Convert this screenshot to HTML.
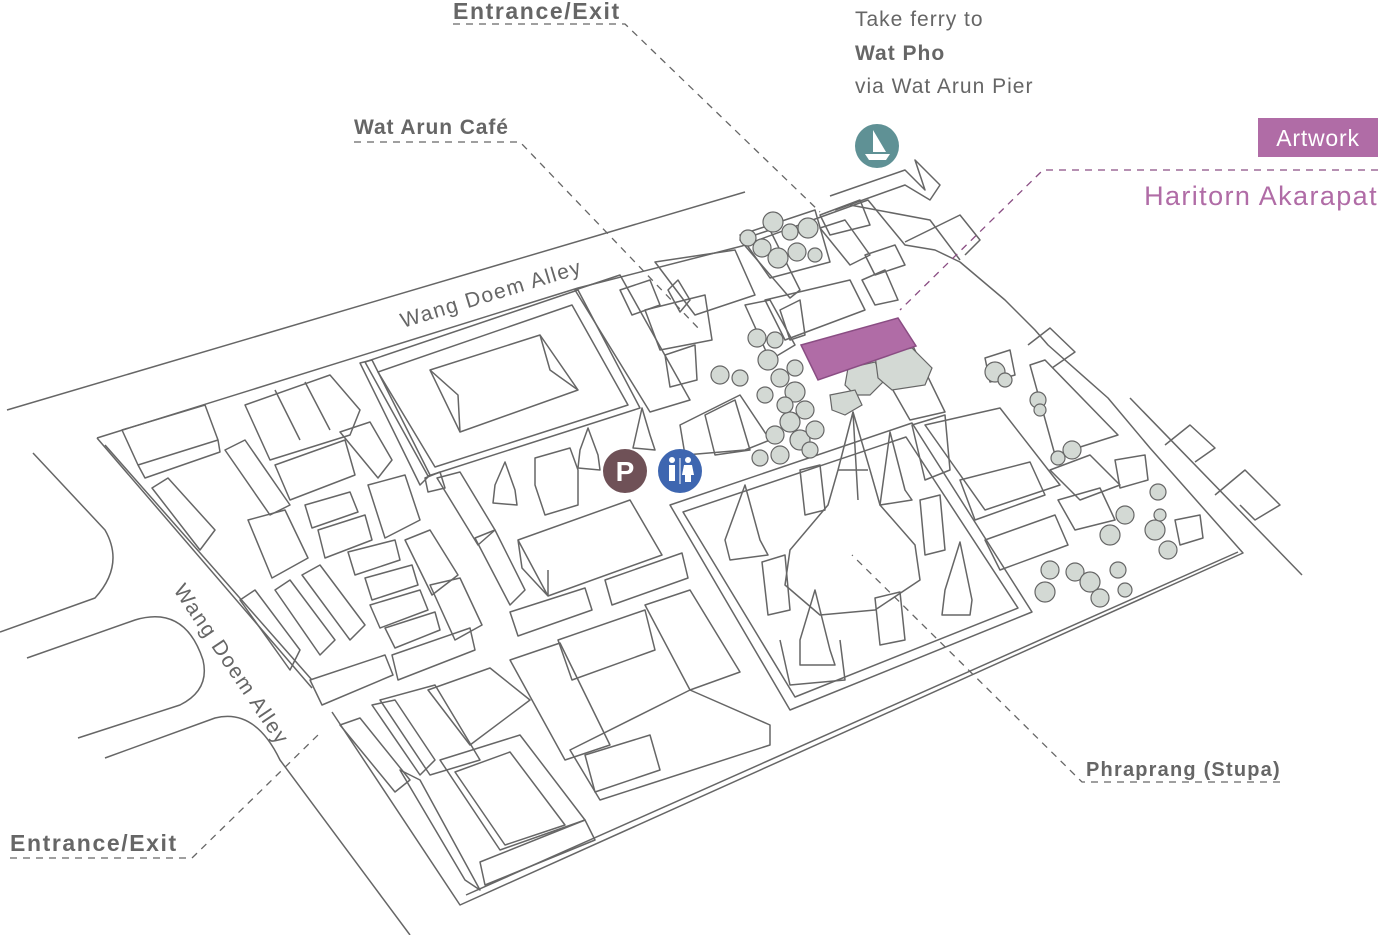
<!DOCTYPE html>
<html><head><meta charset="utf-8"><style>
html,body{margin:0;padding:0;background:#fff;}
svg{display:block;}
text{font-family:"Liberation Sans",sans-serif;}
</style></head><body>
<svg width="1385" height="935" viewBox="0 0 1385 935" xmlns="http://www.w3.org/2000/svg">
<g fill="none" stroke="#666" stroke-width="1.5" stroke-linejoin="round">
<!-- roads -->
<line x1="7" y1="410" x2="745" y2="192"/>
<path d="M33,453 L105,530 Q125,565 95,598 L0,632"/>
<path d="M27,658 L135,620 Q185,605 203,660 Q210,690 180,705 L78,738"/>
<path d="M105,758 L215,718 Q255,708 280,760 L410,935"/>
<line x1="1130" y1="398" x2="1302" y2="575"/>
<!-- site outline -->
<path d="M97,438 L578,288 L742,246 L818,218 L868,200 L905,245 L935,250 L960,262 L1005,300 L1035,330 L1048,345 L1108,398 L1150,448 L1243,553 L460,905 L332,712"/>
<path d="M312,688 L97,438"/>
<path d="M466,895 L1238,552"/>
<path d="M105,445 L312,680"/>
<!-- pier structures -->
<path d="M830,196 L905,170 L925,190 L915,160 L940,185 L930,200 L905,185 L835,210"/>
<path d="M905,242 L960,215 L980,240 L965,255"/>
<path d="M1028,345 L1050,328 L1075,352 L1052,368"/>
<path d="M1165,445 L1190,425 L1215,448 L1195,462"/>
<path d="M1215,495 L1245,470 L1280,505 L1255,520 L1240,505"/>
<!-- temple compound -->
<path d="M670,505 L912,423 L1032,612 L790,710 Z"/>
<path d="M683,512 L906,437 L1018,608 L795,697 Z"/>
<!-- big hall -->
<path d="M365,362 L578,290 L640,408 L428,476 Z"/>
<path d="M378,372 L572,305 L628,405 L435,467 Z"/>
<path d="M430,370 L540,335 L578,390 L460,432 Z"/>
<path d="M430,370 L458,395 L460,432 M540,335 L550,370 L578,390"/>
<!-- middle buildings -->
<path d="M518,540 L630,500 L662,555 L548,596 Z M548,596 L548,570 M518,540 L522,568 L548,596"/>
<path d="M510,612 L585,588 L592,610 L518,636 Z"/>
<path d="M605,580 L682,553 L688,578 L612,605 Z"/>
<path d="M535,458 L570,448 L578,470 L578,505 L545,515 L535,485 Z"/>
<path d="M558,640 L645,610 L655,650 L572,680 Z"/>
<path d="M645,605 L690,590 L740,672 L690,690 Z"/>
<path d="M510,660 L560,643 L610,745 L565,760 Z"/>
<path d="M570,750 L690,690 L770,725 L770,745 L600,800 Z"/>
<path d="M585,755 L650,735 L660,770 L595,792 Z"/>
<path d="M380,700 L435,685 L480,760 L430,775 Z"/>
<path d="M428,690 L490,668 L530,700 L470,745 Z"/>
<path d="M440,760 L520,735 L585,820 L500,850 Z"/>
<path d="M455,772 L510,752 L565,825 L505,845 Z"/>
<path d="M340,725 L360,718 L410,780 L395,792 Z"/>
<path d="M372,705 L395,700 L435,760 L420,775 Z"/>
<path d="M400,770 L465,880 L480,890 L420,780 Z"/>
<path d="M480,862 L585,820 L595,840 L485,885 Z"/>
<!-- left area buildings -->
<path d="M122,430 L205,405 L218,440 L138,465 Z M138,465 L145,478 L220,452 L218,440"/>
<path d="M152,488 L168,478 L215,530 L200,550 Z"/>
<path d="M225,450 L245,440 L290,505 L270,515 Z"/>
<path d="M245,405 L330,375 L360,410 L350,435 L270,460 Z M275,390 L300,440 M305,382 L330,430"/>
<path d="M275,465 L345,440 L355,475 L290,500 Z"/>
<path d="M340,432 L370,422 L392,460 L378,478 Z"/>
<path d="M248,520 L285,510 L308,558 L272,578 Z"/>
<path d="M305,505 L350,492 L358,512 L312,528 Z"/>
<path d="M318,530 L365,515 L372,540 L325,558 Z"/>
<path d="M368,485 L405,475 L420,520 L385,538 Z"/>
<path d="M240,600 L255,590 L300,650 L290,670 Z"/>
<path d="M275,590 L290,580 L335,640 L320,655 Z"/>
<path d="M302,575 L320,565 L365,625 L350,640 Z"/>
<path d="M348,552 L395,540 L400,560 L355,575 Z"/>
<path d="M365,578 L412,565 L418,585 L372,600 Z"/>
<path d="M370,605 L420,590 L428,610 L380,628 Z"/>
<path d="M385,628 L435,612 L440,630 L395,648 Z"/>
<path d="M392,655 L470,628 L475,650 L398,680 Z"/>
<path d="M310,680 L385,655 L393,675 L322,705 Z"/>
<path d="M405,540 L430,530 L458,575 L432,595 Z"/>
<path d="M430,585 L460,578 L482,625 L455,640 Z"/>
<path d="M360,363 L372,360 L430,475 L420,485 Z"/>
<path d="M437,478 L460,472 L495,530 L478,545 Z"/>
<path d="M475,538 L495,530 L525,590 L510,605 Z"/>
<path d="M425,478 L440,472 L445,488 L428,492 Z"/>
<!-- top cluster -->
<path d="M575,290 L620,275 L690,400 L650,412 Z"/>
<path d="M655,262 L735,250 L755,295 L695,315 Z"/>
<path d="M740,240 L770,230 L800,290 L790,298 Z"/>
<path d="M740,235 L815,210 L830,262 L770,278 Z"/>
<path d="M765,300 L850,280 L865,310 L785,340 Z"/>
<path d="M780,310 L800,300 L805,335 L790,340 Z"/>
<path d="M820,215 L860,200 L870,225 L830,235 Z"/>
<path d="M820,228 L845,220 L870,255 L850,265 Z"/>
<path d="M865,255 L895,245 L905,265 L875,275 Z"/>
<path d="M862,280 L885,270 L898,300 L875,305 Z"/>
<path d="M850,205 L930,220 L960,260"/>
<path d="M620,290 L650,280 L660,305 L632,315 Z"/>
<path d="M645,310 L705,295 L712,340 L660,350 Z"/>
<path d="M668,290 L678,280 L690,300 L680,312 Z"/>
<path d="M665,355 L695,345 L697,380 L670,387 Z"/>
<path d="M680,425 L740,395 L770,440 L745,450 L685,455 Z"/>
<path d="M705,415 L735,400 L750,450 L715,455 Z"/>
<path d="M745,305 L770,300 L795,345 L770,360 Z"/>
<path d="M925,425 L1000,408 L1060,485 L985,510 Z"/>
<path d="M960,480 L1030,462 L1045,495 L975,520 Z"/>
<path d="M985,540 L1055,515 L1068,545 L1000,570 Z"/>
<path d="M1058,500 L1100,488 L1115,520 L1075,530 Z"/>
<path d="M1050,470 L1090,455 L1120,485 L1080,500 Z"/>
<path d="M1115,460 L1145,455 L1148,480 L1120,488 Z"/>
<path d="M1175,520 L1200,515 L1203,538 L1180,545 Z"/>
<path d="M1030,365 L1045,360 L1118,435 L1055,455 Z"/>
<path d="M985,358 L1010,350 L1015,375 L990,382 Z"/>
<path d="M912,425 L945,415 L950,470 L925,480 Z"/>
<path d="M870,350 L910,340 L945,412 L910,420 Z"/>
<!-- stupas -->
<path d="M853,412 L870,470 L880,505 L915,545 L920,580 L875,610 L820,615 L785,585 L790,550 L828,505 L838,470 Z"/>
<path d="M853,412 L858,500 M838,470 L868,470"/>
<path d="M745,485 L760,540 L768,555 L730,560 L725,540 Z"/>
<path d="M890,432 L905,490 L912,500 L880,505 Z"/>
<path d="M960,542 L972,600 L970,615 L942,615 L945,590 Z"/>
<path d="M815,590 L830,650 L835,665 L800,665 L800,640 Z"/>
<path d="M762,562 L785,555 L790,610 L768,615 Z"/>
<path d="M875,598 L900,592 L905,640 L880,645 Z"/>
<path d="M800,470 L820,465 L825,510 L805,515 Z"/>
<path d="M920,500 L940,495 L945,550 L925,555 Z"/>
<path d="M505,462 L515,490 L517,505 L493,503 L495,485 Z"/>
<path d="M588,428 L598,455 L600,470 L578,468 L580,450 Z"/>
<path d="M642,408 L650,435 L655,450 L633,448 Z"/>
<path d="M780,640 L790,685 L845,680 L840,640"/>
</g>
<!-- trees -->
<g fill="#d3d9d4" stroke="#666" stroke-width="1.2">
<path d="M848,368 L875,362 L885,380 L870,395 L855,395 L845,385 Z"/>
<path d="M875,355 L912,348 L932,368 L925,385 L892,390 L878,378 Z"/>
<path d="M830,395 L855,390 L862,405 L845,415 L832,410 Z"/>
<circle cx="748" cy="238" r="8"/><circle cx="773" cy="222" r="10"/><circle cx="762" cy="248" r="9"/><circle cx="778" cy="258" r="10"/><circle cx="797" cy="252" r="9"/><circle cx="808" cy="228" r="10"/><circle cx="815" cy="255" r="7"/><circle cx="790" cy="232" r="8"/>
<circle cx="757" cy="338" r="9"/><circle cx="775" cy="340" r="8"/><circle cx="768" cy="360" r="10"/><circle cx="780" cy="378" r="9"/><circle cx="795" cy="392" r="10"/><circle cx="805" cy="410" r="9"/><circle cx="790" cy="422" r="10"/><circle cx="775" cy="435" r="9"/><circle cx="800" cy="440" r="10"/><circle cx="815" cy="430" r="9"/><circle cx="780" cy="455" r="9"/><circle cx="760" cy="458" r="8"/><circle cx="720" cy="375" r="9"/><circle cx="740" cy="378" r="8"/><circle cx="785" cy="405" r="8"/><circle cx="810" cy="450" r="8"/><circle cx="765" cy="395" r="8"/><circle cx="795" cy="368" r="8"/>
<circle cx="995" cy="372" r="10"/><circle cx="1005" cy="380" r="7"/><circle cx="1038" cy="400" r="8"/><circle cx="1040" cy="410" r="6"/><circle cx="1072" cy="450" r="9"/><circle cx="1058" cy="458" r="7"/><circle cx="1125" cy="515" r="9"/><circle cx="1158" cy="492" r="8"/><circle cx="1110" cy="535" r="10"/><circle cx="1155" cy="530" r="10"/><circle cx="1168" cy="550" r="9"/><circle cx="1050" cy="570" r="9"/><circle cx="1075" cy="572" r="9"/><circle cx="1090" cy="582" r="10"/><circle cx="1045" cy="592" r="10"/><circle cx="1100" cy="598" r="9"/><circle cx="1118" cy="570" r="8"/><circle cx="1125" cy="590" r="7"/><circle cx="1160" cy="515" r="6"/>
</g>
<!-- purple artwork plot -->
<polygon points="801,345 898,318 916,346 818,380" fill="#b06ca6" stroke="#8a4d83" stroke-width="1.5"/>
<!-- leaders -->
<g fill="none" stroke="#666" stroke-width="1.3" stroke-dasharray="7,6">
<path d="M453,24 L625,24 L820,212"/>
<path d="M354,142 L520,142 L700,330"/>
<path d="M10,858 L192,858 L318,735"/>
<path d="M1280,782 L1082,782 L852,555"/>
</g>
<path d="M1378,170 L1043,170 L900,310" fill="none" stroke="#8a4d83" stroke-width="1.3" stroke-dasharray="7,6"/>
<!-- icons -->
<circle cx="877" cy="146" r="22" fill="#5f9195"/>
<path d="M873,130 L873,152 L886,152 Z" fill="#fff"/>
<path d="M865,154 L890,154 L886,160 L869,160 Z" fill="#fff"/>
<circle cx="625" cy="471" r="22" fill="#6f5157"/>
<text x="625" y="481" text-anchor="middle" font-size="28" font-weight="bold" fill="#fff">P</text>
<circle cx="680" cy="471" r="22" fill="#3e66b0"/>
<g fill="#fff"><circle cx="672" cy="460" r="3"/><rect x="669" y="465" width="6" height="16"/><circle cx="688" cy="460" r="3"/><path d="M684,465 L692,465 L694,475 L682,475 Z"/><rect x="685" y="475" width="6" height="7"/><rect x="679.5" y="458" width="1" height="26"/></g>
<!-- labels -->
<g fill="#666">
<text x="453" y="19" font-size="23" font-weight="bold" letter-spacing="1.6">Entrance/Exit</text>
<text x="354" y="134" font-size="21" font-weight="bold" letter-spacing="0.9">Wat Arun Café</text>
<text x="855" y="26" font-size="21" letter-spacing="1">Take ferry to</text>
<text x="855" y="60" font-size="21" font-weight="bold" letter-spacing="1">Wat Pho</text>
<text x="855" y="93" font-size="21" letter-spacing="1">via Wat Arun Pier</text>
<text x="10" y="851" font-size="23" font-weight="bold" letter-spacing="1.6">Entrance/Exit</text>
<text x="1086" y="776" font-size="20" font-weight="bold" letter-spacing="1.2">Phraprang (Stupa)</text>
<text transform="translate(403,328) rotate(-17)" font-size="21" letter-spacing="1.5">Wang Doem Alley</text>
<text transform="translate(173,590) rotate(56)" font-size="21" letter-spacing="1.5">Wang Doem Alley</text>
</g>
<rect x="1258" y="118" width="120" height="39" fill="#b06ca6"/>
<text x="1318" y="146" text-anchor="middle" font-size="23" fill="#fff" letter-spacing="0.8">Artwork</text>
<text x="1378" y="205" text-anchor="end" font-size="27" fill="#b06ca6" letter-spacing="1.4">Haritorn Akarapat</text>
</svg>
</body></html>
